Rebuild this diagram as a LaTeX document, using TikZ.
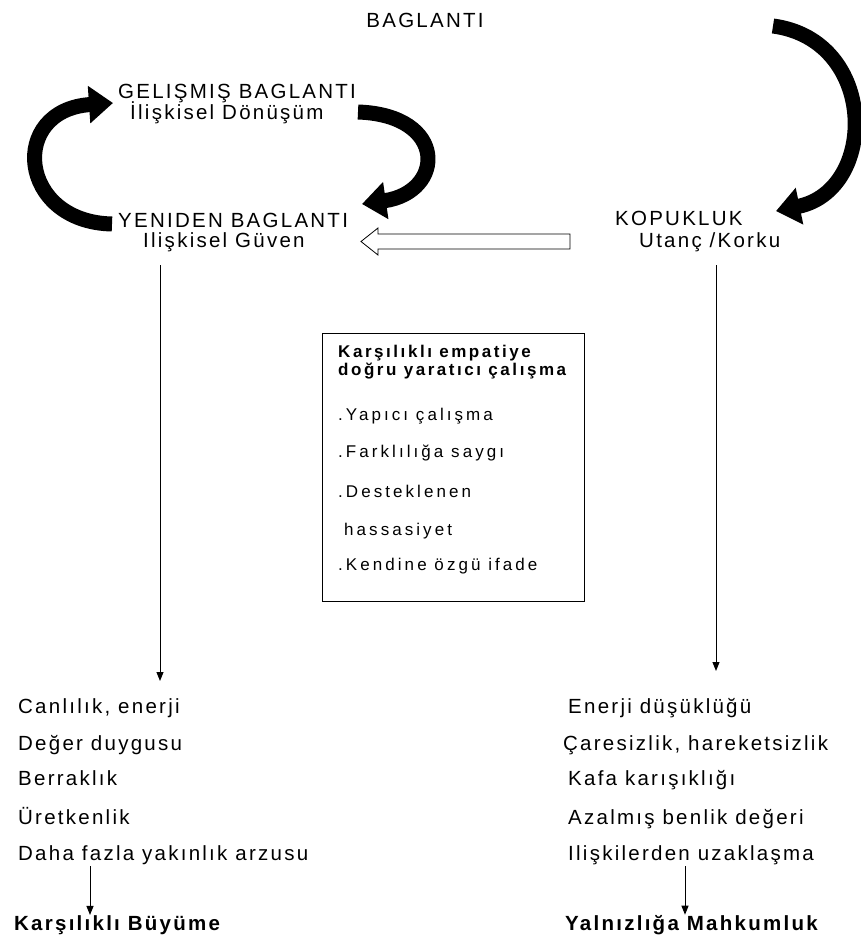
\documentclass[tikz,border=0pt]{standalone}
\usepackage{fontspec}
\setmainfont{Liberation Sans}
\newfontfamily\lsp[LetterSpace=11]{Liberation Sans}
\newfontfamily\boxf[LetterSpace=18]{Liberation Sans}
\newfontfamily\boxh[LetterSpace=15]{Liberation Sans}
\usetikzlibrary{arrows.meta}
\begin{document}
\begin{tikzpicture}[x=1pt,y=-1pt,
  txt/.style={anchor=base west,inner sep=0pt,font=\fontsize{20.5}{22}\selectfont\lsp},
  two/.style={anchor=base west,inner sep=0pt,align=left,font=\fontsize{20.5}{20}\selectfont\lsp},
  btxt/.style={anchor=base west,inner sep=0pt,font=\fontsize{20.5}{22}\selectfont\lsp\bfseries},
  ctxt/.style={anchor=base,inner sep=0pt,font=\fontsize{20.5}{22}\selectfont\lsp},
  bxt/.style={anchor=base west,inner sep=0pt,font=\fontsize{17}{19}\selectfont\boxf},
  bxh/.style={anchor=base west,inner sep=0pt,align=left,font=\fontsize{17}{18}\selectfont\boxh\bfseries},
  thick arrow/.style={line width=15pt,-{Triangle[width=36pt,length=24pt]}},
  thin arrow/.style={line width=1pt,-{Triangle[width=7pt,length=9pt]}}]
\useasboundingbox (0,0) rectangle (860,940);

% top labels
\node[ctxt] (bag) at (425,27) {BAGLANTI};
\node[two] (gel) at (118,119) {GELIŞMIŞ BAGLANTI\\[-3pt]\hspace*{12pt}İlişkisel Dönüşüm};
\node[two] (yen) at (118,247) {YENIDEN BAGLANTI\\\hspace*{25pt}Ilişkisel Güven};
\node[two] (kop) at (615,247) {KOPUKLUK\\[2pt]\hspace*{24pt}Utanç /Korku};

% curved arrows
\coordinate (l1) at (112,224);
\coordinate (l2) at (113,103);
\draw[thick arrow] (l1) .. controls (18,222) and (8,110) .. (l2);
\coordinate (r1) at (358,112);
\coordinate (r2) at (362,204);
\draw[thick arrow] (r1) .. controls (448,115) and (445,192) .. (r2);
\coordinate (b1) at (773,26);
\coordinate (b2) at (776,211);
\draw[thick arrow] (b1) .. controls (878,40) and (878,190) .. (b2);

% hollow arrow
\draw[fill=white,line width=0.8pt] (570,234) -- (378,234) -- (378,228) -- (361,241.5) -- (378,255) -- (378,249) -- (570,249) -- cycle;

% box
\node[draw,line width=1pt,minimum width=262pt,minimum height=268pt,anchor=north west,inner sep=0pt] (box) at (322,333) {};
\node[bxh] (h) at (338,375) {Karşılıklı empatiye\\doğru yaratıcı çalışma};
\node[bxt] (i1) at (338,420) {.Yapıcı çalışma};
\node[bxt] (i2) at (338,457) {.Farklılığa saygı};
\node[bxt] (i3) at (338,497) {.Desteklenen};
\node[bxt] (i4) at (344,535) {hassasiyet};
\node[bxt] (i5) at (338,570) {.Kendine özgü ifade};

% vertical arrows
\coordinate (vl1) at (160,265);
\coordinate (vl2) at (160,681);
\coordinate (vr1) at (716,265);
\coordinate (vr2) at (716,671);
\draw[thin arrow] (vl1) -- (vl2);
\draw[thin arrow] (vr1) -- (vr2);

% left list
\node[txt] (a1) at (18,713) {Canlılık, enerji};
\node[txt] (a2) at (18,750) {Değer duygusu};
\node[txt] (a3) at (18,785) {Berraklık};
\node[txt] (a4) at (18,824) {Üretkenlik};
\node[txt] (a5) at (18,860) {Daha fazla yakınlık arzusu};
\node[btxt] (a6) at (14,930) {Karşılıklı Büyüme};
\draw[thin arrow] (90,866) -- (a6.north -| 90,0);

% right list
\node[txt] (c1) at (568,713) {Enerji düşüklüğü};
\node[txt] (c2) at (563,750) {Çaresizlik, hareketsizlik};
\node[txt] (c3) at (568,785) {Kafa karışıklığı};
\node[txt] (c4) at (568,824) {Azalmış benlik değeri};
\node[txt] (c5) at (568,860) {Ilişkilerden uzaklaşma};
\node[btxt] (c6) at (565,930) {Yalnızlığa Mahkumluk};
\draw[thin arrow] (685,866) -- (c6.north -| 685,0);
\end{tikzpicture}
\end{document}
